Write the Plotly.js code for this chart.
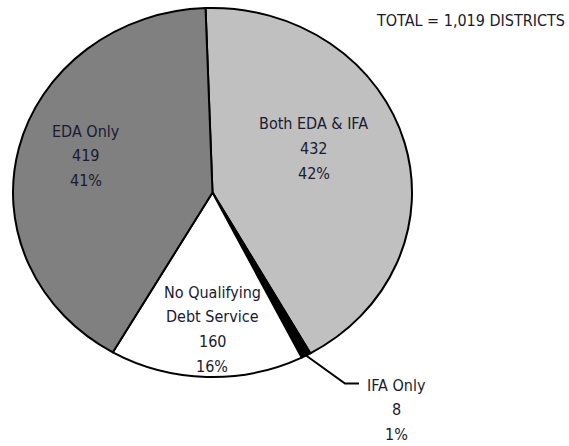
<!DOCTYPE html>
<html>
<head>
<meta charset="utf-8">
<script src="https://cdn.plot.ly/plotly-3.0.1.min.js"></script>
<style>
  html, body { margin: 0; padding: 0; background: #ffffff; }
  #chart { width: 569px; height: 446px; }
</style>
</head>
<body>
<div id="chart"></div>
<script>
// Districts by qualifying state aid type (clockwise from the top)
const categories = ['Both EDA & IFA', 'IFA Only', 'No Qualifying<br>Debt Service', 'EDA Only'];
const districts = [432, 8, 160, 419];
const sliceColors = ['#c0c0c0', '#000000', '#ffffff', '#808080'];

// Label block anchors in pixels (centre x, first line y), one per slice
const labelX = [313.5, 396, 212, 85.5];
const labelY = [123.5, 385, 292, 131];

const W = 569, H = 446;
const px = x => x / W;
const py = y => 1 - y / H;

const total = districts.reduce((a, b) => a + b, 0);
const FONT = { family: "'DejaVu Sans Condensed', 'Liberation Sans Narrow', 'DejaVu Sans', sans-serif", size: 16, color: '#1a1a30' };

// pie geometry (pixels)
const cx = 212.5, cy = 192.5, r = 184.5, stretchX = 1.0813;
const rotation = -2;
const lineGap = 24.8;

const annotations = [];
categories.forEach((name, i) => {
  const pct = Math.round(districts[i] / total * 100) + '%';
  const lines = name.split('<br>').concat([String(districts[i]), pct]);
  lines.forEach((t, j) => {
    annotations.push({
      xref: 'paper', yref: 'paper',
      x: px(labelX[i]), y: py(labelY[i] + j * lineGap),
      text: t, showarrow: false,
      xanchor: 'center', yanchor: 'middle',
      font: FONT
    });
  });
});

annotations.push({
  xref: 'paper', yref: 'paper',
  x: px(567), y: py(20),
  text: 'TOTAL = ' + total.toLocaleString('en-US') + ' DISTRICTS',
  showarrow: false, xanchor: 'right', yanchor: 'middle',
  font: FONT
});

// leader for the small "IFA Only" slice, starting at the slice's mid angle on the rim
const before = districts[0];
const midDeg = rotation + (before + districts[1] / 2) / total * 360;
const a = midDeg * Math.PI / 180;
const sx = cx + r * stretchX * Math.sin(a);
const sy = cy - r * Math.cos(a);
const elbowX = 345, elbowY = 383.5, endX = 359;

const shapes = [{
  type: 'path', xref: 'paper', yref: 'paper',
  path: `M ${px(sx)},${py(sy)} L ${px(elbowX)},${py(elbowY)} L ${px(endX)},${py(elbowY)}`,
  line: { color: '#000000', width: 2 }
}];

const trace = {
  type: 'pie',
  labels: categories,
  values: districts,
  sort: false,
  direction: 'clockwise',
  rotation: rotation,
  textinfo: 'none',
  hoverinfo: 'none',
  marker: { colors: sliceColors, line: { color: '#000000', width: 2 } },
  domain: { x: [px(cx - r), px(cx + r)], y: [py(cy + r), py(cy - r)] },
  showlegend: false
};

const layout = {
  width: W, height: H,
  margin: { l: 0, r: 0, t: 0, b: 0 },
  paper_bgcolor: '#ffffff',
  plot_bgcolor: '#ffffff',
  showlegend: false,
  annotations: annotations,
  shapes: shapes
};

Plotly.newPlot('chart', [trace], layout, { staticPlot: true, displayModeBar: false }).then(gd => {
  // widen the pie horizontally into an ellipse about its centre
  const g = gd.querySelector('.pielayer');
  if (g) {
    g.setAttribute('transform', `translate(${cx},0) scale(${stretchX},1) translate(${-cx},0)`);
    g.querySelectorAll('path').forEach(p => p.setAttribute('vector-effect', 'non-scaling-stroke'));
  }
});
</script>
</body>
</html>
